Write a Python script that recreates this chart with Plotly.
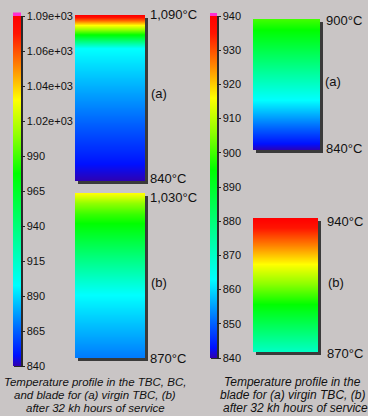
import plotly.graph_objects as go

W, H = 368, 416

# ---------------- data ----------------
left_tickvals = [840, 865, 890, 915, 940, 965, 990, 1015, 1040, 1065, 1090]
left_ticktext = ["840", "865", "890", "915", "940", "965", "990",
                 "1.02e+03", "1.04e+03", "1.06e+03", "1.09e+03"]
right_tickvals = [840, 850, 860, 870, 880, 890, 900, 910, 920, 930, 940]
right_ticktext = [str(v) for v in right_tickvals]

# temperature profiles: relative depth (0 = top surface) and temperature (°C)
tbc_virgin_depth = [0, 0.03, 0.06, 0.115, 0.2, 1.0]
tbc_virgin_temp = [1090, 1062, 1030, 980, 898, 840]
tbc_aged_depth = [0, 0.06, 0.13, 0.38, 0.61, 1.0]
tbc_aged_temp = [1030, 1005, 988, 940, 898, 870]
blade_virgin_depth = [0, 1.0]
blade_virgin_temp = [900, 840]
blade_aged_depth = [0, 1.0]
blade_aged_temp = [940, 870]

colorscale = [
    [0.0, "#3000b0"], [0.03, "#0010ff"], [0.10, "#0060ff"], [0.23, "#00ffff"],
    [0.55, "#00ff00"], [0.66, "#90ff00"], [0.76, "#ffff00"], [0.86, "#ff8000"],
    [0.95, "#ff1400"], [1.0, "#ff0000"],
]

BG = "#c9c5c5"
TXT = "#111111"


def px(x):
    return x / W


def py(y):
    return 1 - y / H


# rectangles (pixel boxes) for each profile
panels = [
    dict(box=(75, 15, 145, 181), depth=tbc_virgin_depth, temp=tbc_virgin_temp, ca="coloraxis"),
    dict(box=(75, 193, 145, 358), depth=tbc_aged_depth, temp=tbc_aged_temp, ca="coloraxis"),
    dict(box=(253, 19, 320, 150), depth=blade_virgin_depth, temp=blade_virgin_temp, ca="coloraxis2"),
    dict(box=(253, 218, 318, 352), depth=blade_aged_depth, temp=blade_aged_temp, ca="coloraxis2"),
]

fig = go.Figure()
layout_axes = {}
shapes = []
for i, p in enumerate(panels, start=1):
    x0, y0, x1, y1 = p["box"]
    fig.add_trace(go.Heatmap(
        z=[[t, t] for t in p["temp"]], x=[0, 1], y=p["depth"],
        coloraxis=p["ca"], zsmooth="best", hoverinfo="skip",
        xaxis=f"x{i}", yaxis=f"y{i}",
    ))
    layout_axes[f"xaxis{i}"] = dict(domain=[px(x0), px(x1)], range=[0, 1], visible=False,
                                     anchor=f"y{i}", fixedrange=True)
    layout_axes[f"yaxis{i}"] = dict(domain=[py(y1), py(y0)], range=[1, 0], visible=False,
                                     anchor=f"x{i}", fixedrange=True)
    # drop shadow
    shapes.append(dict(type="rect", xref="paper", yref="paper", layer="below",
                       x0=px(x0 + 3), x1=px(x1 + 3), y0=py(y1 + 3), y1=py(y0 + 3),
                       fillcolor="#3a3a3a", line=dict(width=0)))

# colorbar shadows and magenta end caps
shapes.append(dict(type="rect", xref="paper", yref="paper", layer="below",
                   x0=px(14), x1=px(23), y0=py(367), y1=py(16),
                   fillcolor="#2a2a2a", line=dict(width=0)))
shapes.append(dict(type="rect", xref="paper", yref="paper", layer="below",
                   x0=px(211), x1=px(219), y0=py(359), y1=py(16),
                   fillcolor="#2a2a2a", line=dict(width=0)))
shapes.append(dict(type="rect", xref="paper", yref="paper", layer="above",
                   x0=px(13), x1=px(21), y0=py(16), y1=py(12.5),
                   fillcolor="#ff30d0", line=dict(width=0)))
shapes.append(dict(type="rect", xref="paper", yref="paper", layer="above",
                   x0=px(210), x1=px(217), y0=py(16), y1=py(13),
                   fillcolor="#ff30d0", line=dict(width=0)))

cb_common = dict(xanchor="left", yanchor="middle", xpad=0, ypad=0, lenmode="pixels",
                 thicknessmode="pixels", outlinewidth=0, ticks="outside", ticklen=4,
                 tickwidth=1, tickcolor="#222")

annotations = []


def label(text, x, y, size=13, anchor="left"):
    annotations.append(dict(text=text, x=px(x), y=py(y), xref="paper", yref="paper",
                            xanchor=anchor, yanchor="middle", showarrow=False,
                            font=dict(family="Liberation Sans", size=size, color=TXT)))


label("1,090°C", 148, 15)
label("(a)", 149, 93)
label("840°C", 148, 178)
label("1,030°C", 148, 197)
label("(b)", 149, 282)
label("870°C", 148, 358)
label("900°C", 324, 20)
label("(a)", 323, 82)
label("840°C", 324, 148)
label("940°C", 325, 221)
label("(b)", 326, 282)
label("870°C", 325, 353)

cap_left = ["Temperature profile in the TBC, BC,",
            "and blade for (a) virgin TBC, (b)",
            "after 32 kh hours of service"]
cap_right = ["Temperature profile in the",
             "blade for (a) virgin TBC, (b)",
             "after 32 kh hours of service"]
for t, yy in zip(cap_left, [382, 395, 408]):
    label(f"<i>{t}</i>", 95, yy, size=11.5, anchor="center")
for t, xx, yy in zip(cap_right, [222, 218, 221], [382, 395, 408]):
    label(f"<i>{t}</i>", xx, yy, size=12, anchor="left")

fig.update_layout(
    width=W, height=H, margin=dict(l=0, r=0, t=0, b=0),
    paper_bgcolor=BG, plot_bgcolor="rgba(0,0,0,0)",
    showlegend=False,
    xaxis=dict(visible=False), yaxis=dict(visible=False),
    coloraxis=dict(cmin=840, cmax=1090, colorscale=colorscale, colorbar=dict(
        x=px(13), y=py(191), len=350, thickness=8,
        tickvals=left_tickvals, ticktext=left_ticktext,
        tickfont=dict(family="Liberation Sans", size=11, color=TXT), **cb_common)),
    coloraxis2=dict(cmin=840, cmax=940, colorscale=colorscale, colorbar=dict(
        x=px(210), y=py(187), len=342, thickness=7,
        tickvals=right_tickvals, ticktext=right_ticktext,
        tickfont=dict(family="Liberation Sans", size=11, color=TXT), **cb_common)),
    shapes=shapes, annotations=annotations,
    **layout_axes,
)

fig.write_html("out.html", config={"displayModeBar": False},
               post_script="document.body.style.margin='0';document.body.style.background='%s';" % BG)
